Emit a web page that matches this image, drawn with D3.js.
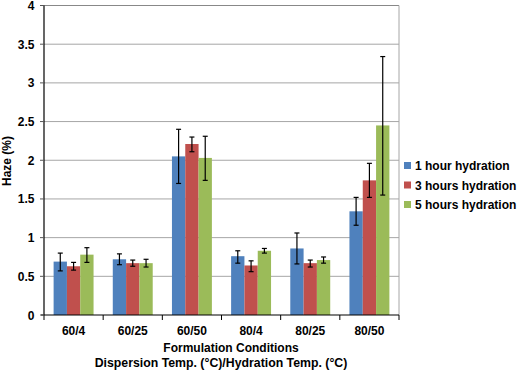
<!DOCTYPE html>
<html>
<head>
<meta charset="utf-8">
<script src="https://d3js.org/d3.v7.min.js"></script>
<style>
body{margin:0;background:#fff;}
text{font-family:"Liberation Sans",Arial,sans-serif;font-weight:bold;}
</style>
</head>
<body>
<div id="chart"></div>
<script>
// 데이터
var categories = ["60/4","60/25","60/50","80/4","80/25","80/50"];
var seriesNames = ["1 hour hydration","3 hours hydration","5 hours hydration"];
var hour1 = [0.69,0.72,2.05,0.76,0.86,1.34];
var hour3 = [0.63,0.67,2.21,0.64,0.67,1.74];
var hour5 = [0.78,0.67,2.03,0.83,0.71,2.45];
var hour1Err = [[0.57,0.80],[0.65,0.79],[1.70,2.40],[0.67,0.83],[0.66,1.06],[1.16,1.52]];
var hour3Err = [[0.58,0.68],[0.63,0.71],[2.11,2.30],[0.56,0.70],[0.62,0.71],[1.52,1.96]];
var hour5Err = [[0.68,0.87],[0.62,0.72],[1.74,2.31],[0.80,0.86],[0.67,0.75],[1.55,3.34]];
var yTicks = [0,0.5,1,1.5,2,2.5,3,3.5,4];
var colors = ["#4f81bd","#c0504d","#9bbb59"];

var W = 517, H = 370;
var margin = {top:5.5, right:118, bottom:55, left:44};
var width = W - margin.left - margin.right,
    height = H - margin.top - margin.bottom;

var svg = d3.select("#chart").append("svg")
    .attr("width", W).attr("height", H);
var g = svg.append("g")
    .attr("transform","translate(" + margin.left + "," + margin.top + ")");

var x0 = d3.scaleBand().domain(categories).range([0,width]).paddingInner(0.325).paddingOuter(0.1625);
var x1 = d3.scaleBand().domain([0,1,2]).range([0,x0.bandwidth()]);
var y = d3.scaleLinear().domain([0,4]).range([height,0]);

// 그리드
g.selectAll(".grid").data(yTicks.slice(1)).enter().append("line")
    .attr("x1",0).attr("x2",width)
    .attr("y1",function(d){return y(d);}).attr("y2",function(d){return y(d);})
    .attr("stroke",function(d){return d==4?"#888":"#a6a6a6";})
    .attr("stroke-width",1);
g.append("line").attr("x1",width).attr("x2",width).attr("y1",0).attr("y2",height)
    .attr("stroke","#a6a6a6");

var series = [
  {vals:hour1, err:hour1Err},
  {vals:hour3, err:hour3Err},
  {vals:hour5, err:hour5Err}
];

var data = [];
categories.forEach(function(c,i){
  series.forEach(function(s,j){
    data.push({cat:c, s:j, v:s.vals[i], lo:s.err[i][0], hi:s.err[i][1]});
  });
});

g.selectAll(".bar").data(data).enter().append("rect")
    .attr("class","bar")
    .attr("x",function(d){return x0(d.cat)+x1(d.s);})
    .attr("width",x1.bandwidth())
    .attr("y",function(d){return y(d.v);})
    .attr("height",function(d){return y(0)-y(d.v);})
    .attr("fill",function(d){return colors[d.s];});

// 오차막대
var eb = g.selectAll(".err").data(data).enter().append("g").attr("class","err");
eb.append("line")
    .attr("x1",function(d){return x0(d.cat)+x1(d.s)+x1.bandwidth()/2;})
    .attr("x2",function(d){return x0(d.cat)+x1(d.s)+x1.bandwidth()/2;})
    .attr("y1",function(d){return y(d.lo);}).attr("y2",function(d){return y(d.hi);})
    .attr("stroke","#000").attr("stroke-width",1.2);
["lo","hi"].forEach(function(k){
  eb.append("line")
    .attr("x1",function(d){return x0(d.cat)+x1(d.s)+x1.bandwidth()/2-2.5;})
    .attr("x2",function(d){return x0(d.cat)+x1(d.s)+x1.bandwidth()/2+2.5;})
    .attr("y1",function(d){return y(d[k]);}).attr("y2",function(d){return y(d[k]);})
    .attr("stroke","#000").attr("stroke-width",1.2);
});

// 축
var xAxis = g.append("g").attr("transform","translate(0,"+height+")");
xAxis.append("line").attr("x1",-3).attr("x2",width).attr("stroke","#000").attr("stroke-width",1.2);
xAxis.selectAll(".tick").data(d3.range(categories.length+1)).enter().append("line")
    .attr("x1",function(i){return i*x0.step();}).attr("x2",function(i){return i*x0.step();})
    .attr("y1",0).attr("y2",5).attr("stroke","#000");
xAxis.selectAll(".lbl").data(categories).enter().append("text")
    .attr("x",function(d){return x0(d)+x0.bandwidth()/2;})
    .attr("y",20).attr("text-anchor","middle").attr("font-size","12px")
    .text(function(d){return d;});

var yAxis = g.append("g");
yAxis.append("line").attr("x1",0).attr("x2",0).attr("y1",0).attr("y2",height)
    .attr("stroke","#000").attr("stroke-width",1.2);
yAxis.selectAll(".tk").data(yTicks).enter().append("line")
    .attr("x1",-4).attr("x2",0)
    .attr("y1",function(d){return y(d);}).attr("y2",function(d){return y(d);})
    .attr("stroke","#555");
yAxis.selectAll(".lbl").data(yTicks).enter().append("text")
    .attr("x",-9.5).attr("y",function(d){return y(d)+4.5;})
    .attr("text-anchor","end").attr("font-size","12px")
    .text(function(d){return d;});

svg.append("text")
    .attr("transform","translate(11,161) rotate(-90)")
    .attr("text-anchor","middle").attr("font-size","12px")
    .text("Haze (%)");

svg.append("text").attr("x",231).attr("y",352).attr("text-anchor","middle")
    .attr("font-size","12px").text("Formulation Conditions");
svg.append("text").attr("x",221).attr("y",366.5).attr("text-anchor","middle")
    .attr("font-size","12.3px").text("Dispersion Temp. (°C)/Hydration Temp. (°C)");

// 범례
var legend = svg.selectAll(".legend").data(seriesNames).enter().append("g")
    .attr("transform",function(d,i){return "translate(404,"+(160+i*19.5)+")";});
legend.append("rect").attr("width",7).attr("height",7).attr("y",2)
    .attr("fill",function(d,i){return colors[i];});
legend.append("text").attr("x",11).attr("y",10).attr("font-size","12px")
    .text(function(d){return d;});
</script>
</body>
</html>
